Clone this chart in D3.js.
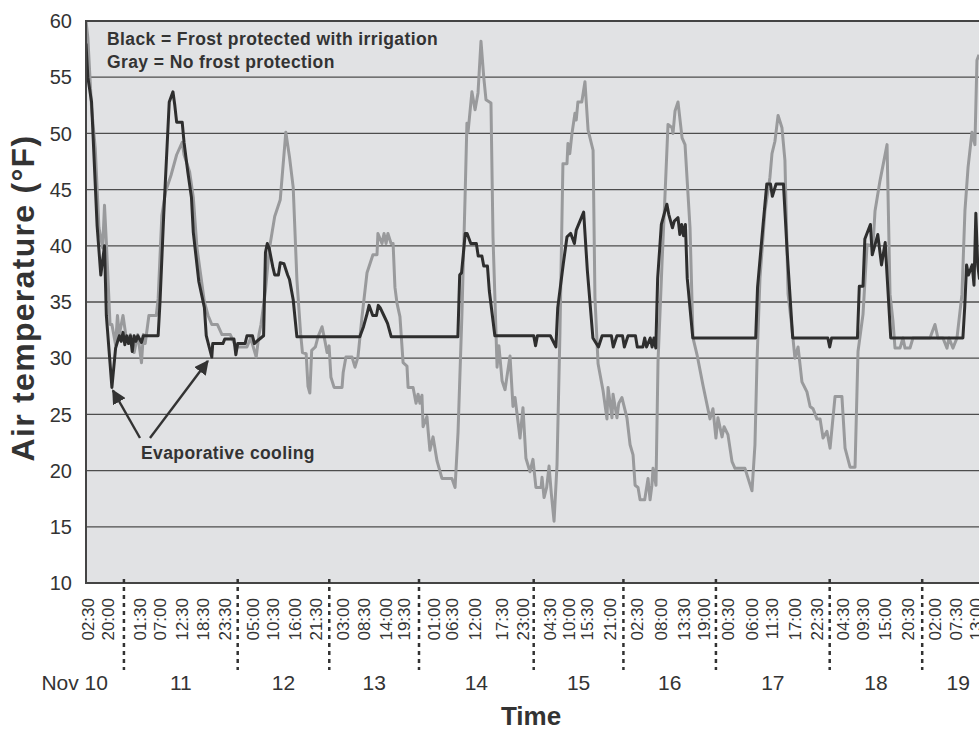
<!DOCTYPE html>
<html>
<head>
<meta charset="utf-8">
<script src="https://cdn.jsdelivr.net/npm/d3@7/dist/d3.min.js"></script>
<style>
  html, body { margin: 0; padding: 0; background: #fff; }
  svg { display: block; font-family: Arial, "Liberation Sans", sans-serif; }
</style>
</head>
<body>
<svg id="chart"></svg>
<script>
// record index along the category axis, temperature in °F
const protectedTemp = [
  [0, 58], [1, 55], [3, 52.8], [6, 41.8], [8, 37.4], [10, 40], [11, 33.8], [14, 27.4], [16, 30.9],
  [18, 32], [19, 31.5], [20, 32.3], [21, 31.2], [22, 32], [23, 31.3], [24, 32], [25, 30.6], [26, 32],
  [27, 31.5], [28, 32], [30, 31.4], [31, 32], [39, 32], [40, 35], [42, 42.7], [45, 52.8], [47, 53.7],
  [48, 52.5], [49, 51], [52, 51], [53, 49.2], [55, 46.6], [57, 44.3], [58, 41.2], [61, 36.8], [64, 34.5],
  [65, 32], [68, 30.1], [68.5, 31.3], [74, 31.3], [75, 31.7], [80, 31.7], [81, 30.3], [82, 31.3],
  [86, 31.3], [87, 32], [90, 32], [91, 31.3], [93, 31.6], [96, 32], [97, 39.4], [98, 40.2], [99, 39.8],
  [101, 38.1], [102, 37.4], [104, 37.4], [105, 38.5], [107, 38.4], [109, 37.4], [110, 37], [112, 35.2],
  [114, 31.9], [148, 31.9], [150, 32.8], [152, 34], [153, 34.7], [155, 33.8], [157, 33.8], [158, 34.7],
  [159, 34.5], [161, 33.8], [163, 33.1], [165, 31.9], [201, 31.9], [202, 37.4], [203, 37.6], [205, 41.1],
  [206, 41.1], [208, 40.2], [211, 40.2], [212, 39.1], [214, 39.1], [215, 38.2], [217, 38.2], [218, 36],
  [221, 32], [242, 32], [243, 31.1], [244, 32], [251, 32], [254, 31], [255, 34.5], [258, 38.4],
  [260, 40.8], [262, 41.1], [264, 40.2], [265, 41.4], [269, 43], [271, 37.8], [274, 31.8], [277, 31],
  [279, 32], [284, 32], [285, 31], [287, 32], [290, 32], [291, 31], [293, 32], [297, 32], [298, 31],
  [301, 31], [302, 31.8], [303, 31], [305, 31.8], [306, 31], [307, 31.8], [308, 30.9], [309, 37.1],
  [311, 41.9], [314, 43.7], [315, 42.8], [317, 41.6], [318, 42.2], [320, 42.5], [321, 41], [322, 41.9],
  [323, 40.9], [324, 41.9], [325, 37.1], [328, 31.8], [362, 31.8], [363, 36.3], [366, 41.9], [368, 45.5],
  [370, 45.5], [371, 44.4], [373, 45.5], [377, 45.5], [379, 39.5], [382, 31.8], [401, 31.8], [402, 31],
  [403, 31.8], [417, 31.8], [418, 36.4], [420, 36.4], [421, 40.6], [424, 41.9], [425, 39.2], [428, 41],
  [430, 38.3], [432, 40.3], [433, 37.4], [435, 31.8], [474, 31.8], [475, 34.6], [476, 38.3], [477, 37.4],
  [479, 38.3], [480, 36.5], [481, 42.9], [482, 38.3], [483, 37]
];

const unprotectedTemp = [
  [0, 60], [1, 58.5], [3, 52.3], [5, 48.7], [7, 41.6], [9, 39.8], [10, 43.6], [11, 40.3], [13, 33],
  [14, 33], [16, 31.2], [17, 33.8], [18, 32.1], [20, 33.8], [22, 31.5], [24, 32.1], [26, 30.5], [28, 32.1],
  [30, 29.6], [31, 32.1], [32, 31.3], [34, 33.8], [38, 33.8], [39, 35.3], [41, 42.7], [43, 44.8],
  [46, 46.3], [49, 48.1], [52, 49.2], [53, 48.1], [56, 46.6], [58, 44.3], [60, 39.8], [62, 37.4],
  [64, 35], [66, 33.8], [68, 33], [71, 33], [73.5, 32.1], [78, 32.1], [81, 31], [87, 31], [89, 31.8],
  [92, 30.1], [93.5, 32.1], [94.6, 33], [97, 36], [99, 39.6], [102, 42.6], [105, 44.1], [108, 50.1],
  [110, 47.9], [112, 45.2], [114, 37], [116, 32.2], [117, 30.5], [119, 30.4], [120, 27.5], [121, 26.9],
  [122, 30.7], [124, 31], [125.4, 31.9], [127.6, 32.8], [129.2, 31.5], [130.3, 30.5], [131.4, 31.1],
  [132.4, 28.3], [134.1, 27.4], [138.4, 27.4], [139, 28.7], [140.5, 30.1], [143.8, 30.1], [145.4, 29.2],
  [147, 30.1], [149.2, 33.7], [151.9, 37.6], [155.1, 39.2], [157.3, 39.2], [157.8, 41.1], [160, 40.2],
  [161.1, 41.1], [162.2, 40.2], [163.2, 41.1], [164.9, 40.2], [166, 40.2], [167, 36.3], [168.1, 34.9],
  [169.7, 33.7], [171.4, 29.6], [173.5, 29.3], [174.1, 27.4], [176.8, 27.4], [178.4, 26], [179.5, 26.8],
  [180.5, 26], [181.6, 26.7], [182.2, 23.9], [184.3, 24.8], [184.9, 23.6], [185.9, 21.8], [187.6, 23],
  [189.7, 20.9], [192.4, 19.3], [197.8, 19.3], [199.5, 18.5], [201.1, 23.4], [203.2, 33.9], [204.9, 44.3],
  [205.9, 50.9], [206.5, 50.1], [208.6, 53.7], [210.3, 52.1], [211.9, 53.6], [213.5, 58.2], [215, 55],
  [216.2, 53], [218.9, 52.7], [220, 40.8], [222.2, 29.2], [223.2, 31.1], [224.9, 28], [226.5, 27.2],
  [229.2, 30.2], [230.8, 25.7], [231.9, 26.5], [234.6, 22.9], [236.2, 25.6], [237.8, 21.1], [240, 19.9],
  [241.6, 21], [243.2, 18.5], [246, 18.5], [246.5, 19.4], [247.6, 17.6], [249, 18.5], [250.3, 20.4],
  [251.5, 18], [253, 15.5], [254.6, 20.5], [256.2, 32.4], [257.8, 47.3], [260, 47.3], [260.5, 49.1],
  [261.5, 48.2], [262.7, 50], [264.3, 51.8], [265, 51.2], [265.9, 52.8], [268, 52.8], [269.7, 54.6],
  [271.4, 50.3], [274.1, 48.5], [275.1, 35.4], [276.8, 29.5], [279.5, 27.1], [281.6, 24.6], [282.2, 27.4],
  [284.3, 24.7], [284.9, 26.8], [287, 24.7], [288, 26], [289.7, 26.5], [292.4, 24.7], [294.1, 22.3],
  [295.7, 21.4], [296.8, 18.7], [298.4, 18.5], [299.5, 17.4], [302, 17.4], [303.8, 19.3], [304.9, 17.4],
  [305.9, 18.7], [306.5, 20.2], [308.1, 18.7], [309.2, 29.7], [311.4, 38.6], [313, 44.6], [314.6, 50.8],
  [316.8, 50.5], [317.3, 50], [318.4, 52], [320, 52.8], [322.2, 49.6], [323.8, 49], [326.5, 41.6],
  [328.1, 31.8], [330.3, 30.3], [333.5, 27.6], [337.3, 24.6], [338.9, 25.5], [340.5, 22.9], [341.6, 24.7],
  [343.8, 23], [344.9, 23.9], [347, 23.2], [349.2, 20.8], [350.8, 20.2], [356.2, 20.2], [360, 18.2],
  [361.6, 22.3], [362.7, 29.7], [364.3, 37.1], [367, 43.1], [369.7, 46.1], [370.8, 48.2], [372.4, 49.3],
  [374.1, 51.6], [376.2, 50.5], [377.8, 47.6], [379.5, 35.7], [381.6, 32.7], [383.2, 30], [384.9, 31],
  [387, 27.9], [389.7, 27], [391.4, 25.7], [393, 25.5], [395.1, 24.6], [396.8, 24.6], [398.4, 22.9],
  [400.5, 23.5], [402.2, 22], [404.9, 26.6], [408.6, 26.6], [410.3, 22], [413, 20.3], [415.7, 20.3],
  [417.3, 30.6], [420, 33.9], [422.2, 40.1], [425.4, 40], [426.5, 43.1], [429.2, 45.8], [433, 49],
  [434.6, 35.7], [436.2, 33.3], [437.3, 30.9], [440, 30.9], [441.6, 31.8], [442.7, 30.9], [445.4, 30.9],
  [447, 31.8], [456.2, 31.8], [458.9, 33], [460.5, 31.8], [463.2, 31.8], [465.4, 30.9], [466.5, 31.8],
  [468.6, 30.9], [470.8, 31.8], [473.5, 35.7], [475.1, 43.1], [476.8, 47], [478.9, 50.1], [480.5, 49],
  [481.6, 56.5], [482.7, 57]
];

const timeTicks = [1, 12, 29, 40, 52, 63, 75, 90, 101, 113, 124, 139, 150, 162, 172, 188, 198, 210, 225, 236,
  251, 261, 271, 283, 298, 311, 323, 334, 347, 360, 371, 383, 395, 409, 420, 432, 444, 459, 470, 481];
const timeLabels = ["02:30", "20:00", "01:30", "07:00", "12:30", "18:30", "23:30", "05:00", "10:30", "16:00",
  "21:30", "03:00", "08:30", "14:00", "19:30", "01:00", "06:30", "12:00", "17:30", "23:00", "04:30", "10:00",
  "15:30", "21:00", "02:30", "08:00", "13:30", "19:00", "00:30", "06:00", "11:30", "17:00", "22:30", "04:30",
  "09:30", "15:00", "20:30", "02:00", "07:30", "13:00"];

const dayEnds = [20.5, 82, 131.5, 180, 242, 290.5, 340.5, 402, 452, 491];
const dayLabels = ["Nov 10", "11", "12", "13", "14", "15", "16", "17", "18", "19"];

const yTicks = [10, 15, 20, 25, 30, 35, 40, 45, 50, 55, 60];

const width = 979;
const height = 730;
const plotLeft = 86, plotTop = 21, plotBottom = 583;

const svg = d3.select("#chart").attr("width", width).attr("height", height);

const x = d3.scaleLinear().domain([0, 491]).range([plotLeft, plotLeft + 491 * 1.85]);
const y = d3.scaleLinear().domain([10, 60]).range([plotBottom, plotTop]);

const ink = "#333";
const plotRight = x(491);

svg.append("clipPath").attr("id", "plotclip")
    .append("rect")
    .attr("x", plotLeft).attr("y", plotTop)
    .attr("width", plotRight - plotLeft).attr("height", plotBottom - plotTop);

// plot background
svg.append("rect")
    .attr("x", plotLeft).attr("y", plotTop)
    .attr("width", plotRight - plotLeft).attr("height", plotBottom - plotTop)
    .attr("fill", "#e1e2e4");

// gridlines
svg.append("g").attr("class", "grid")
    .selectAll("line")
    .data(yTicks.slice(1, -1))
    .enter()
    .append("line")
    .attr("x1", plotLeft).attr("x2", plotRight)
    .attr("y1", function (d) { return y(d); })
    .attr("y2", function (d) { return y(d); })
    .attr("stroke", "#4d4d4d")
    .attr("stroke-width", 1.3);

const line = d3.line()
    .x(function (d) { return x(d[0]); })
    .y(function (d) { return y(d[1]); });

const series = svg.append("g").attr("clip-path", "url(#plotclip)");

series.append("path")
    .datum(unprotectedTemp)
    .attr("fill", "none")
    .attr("stroke", "#999a9c")
    .attr("stroke-width", 3)
    .attr("stroke-linejoin", "round")
    .attr("d", line);

series.append("path")
    .datum(protectedTemp)
    .attr("fill", "none")
    .attr("stroke", "#2e2e2e")
    .attr("stroke-width", 3)
    .attr("stroke-linejoin", "round")
    .attr("d", line);

// frame
svg.append("path")
    .attr("d", "M" + (plotRight + 5) + "," + plotTop + "H" + plotLeft + "V" + plotBottom + "H" + (plotRight + 5))
    .attr("fill", "none")
    .attr("stroke", "#444")
    .attr("stroke-width", 2);

// y axis labels
svg.append("g").attr("class", "ylabels")
    .selectAll("text")
    .data(yTicks)
    .enter()
    .append("text")
    .attr("x", 72)
    .attr("y", function (d) { return y(d); })
    .attr("dy", "0.36em")
    .attr("text-anchor", "end")
    .attr("font-size", "20px")
    .attr("fill", ink)
    .text(function (d) { return d; });

// time labels
svg.append("g").attr("class", "xlabels")
    .selectAll("text")
    .data(timeTicks)
    .enter()
    .append("text")
    .attr("transform", function (d) { return "translate(" + x(d) + "," + 598 + ") rotate(-90)"; })
    .attr("dy", "0.36em")
    .attr("text-anchor", "end")
    .attr("font-size", "17px")
    .attr("fill", ink)
    .text(function (d, i) { return timeLabels[i]; });

// day separators
svg.append("g").attr("class", "days")
    .selectAll("line")
    .data(dayEnds.slice(0, -1))
    .enter()
    .append("line")
    .attr("x1", function (d) { return x(d); })
    .attr("x2", function (d) { return x(d); })
    .attr("y1", plotBottom - 4).attr("y2", 670)
    .attr("stroke", ink)
    .attr("stroke-width", 2.5)
    .attr("stroke-dasharray", "4,4");

svg.append("g").attr("class", "daylabels")
    .selectAll("text")
    .data(dayLabels)
    .enter()
    .append("text")
    .attr("x", function (d, i) {
        if (i === 0) return x(dayEnds[0]) - 16;
        return (x(dayEnds[i - 1]) + x(dayEnds[i])) / 2;
    })
    .attr("y", 690)
    .attr("text-anchor", function (d, i) { return i === 0 ? "end" : "middle"; })
    .attr("font-size", "21px")
    .attr("fill", ink)
    .text(function (d) { return d; });

// axis titles
svg.append("text")
    .attr("x", 531).attr("y", 725)
    .attr("text-anchor", "middle")
    .attr("font-size", "26px")
    .attr("font-weight", "bold")
    .attr("fill", ink)
    .text("Time");

svg.append("text")
    .attr("transform", "translate(34,298) rotate(-90)")
    .attr("text-anchor", "middle")
    .attr("font-size", "32px")
    .attr("letter-spacing", "1.3px")
    .attr("font-weight", "bold")
    .attr("fill", ink)
    .text("Air temperature (\u00b0F)");

// legend note
const note = svg.append("g")
    .attr("font-size", "17.5px")
    .attr("letter-spacing", "0.4px")
    .attr("font-weight", "bold")
    .attr("fill", ink);
note.append("text").attr("x", 107).attr("y", 45).text("Black = Frost protected with irrigation");
note.append("text").attr("x", 107).attr("y", 68).text("Gray = No frost protection");

// evaporative cooling annotation
svg.append("defs").append("marker")
    .attr("id", "arrowhead")
    .attr("viewBox", "0 0 10 10")
    .attr("refX", 9).attr("refY", 5)
    .attr("markerWidth", 6).attr("markerHeight", 6)
    .attr("markerUnits", "strokeWidth")
    .attr("orient", "auto")
    .append("path")
    .attr("d", "M0,0 L10,5 L0,10 z")
    .attr("fill", ink);

const coolingPoints = [[14, 27.4], [68, 30.1]];
const arrowStarts = [[140, 438], [150, 438]];

svg.append("g").attr("class", "arrows")
    .selectAll("line")
    .data(coolingPoints)
    .enter()
    .append("line")
    .attr("x1", function (d, i) { return arrowStarts[i][0]; })
    .attr("y1", function (d, i) { return arrowStarts[i][1]; })
    .attr("x2", function (d, i) { return x(d[0]) + (i === 0 ? 1 : -4); })
    .attr("y2", function (d, i) { return y(d[1]) + (i === 0 ? 3 : 4); })
    .attr("stroke", ink)
    .attr("stroke-width", 2.4)
    .attr("marker-end", "url(#arrowhead)");

svg.append("text")
    .attr("x", 141).attr("y", 459)
    .attr("font-size", "17.5px")
    .attr("letter-spacing", "0.4px")
    .attr("font-weight", "bold")
    .attr("fill", ink)
    .text("Evaporative cooling");
</script>
</body>
</html>
